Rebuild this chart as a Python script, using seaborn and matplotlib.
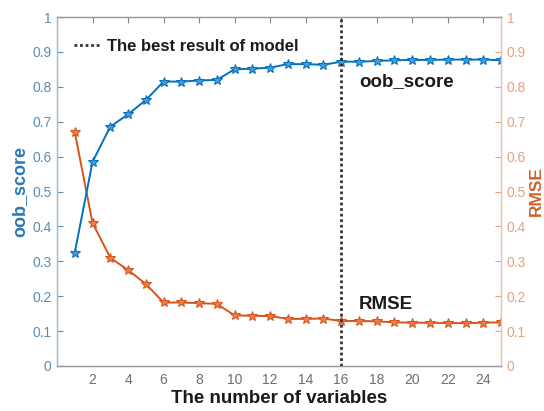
import matplotlib
matplotlib.use("Agg")
import matplotlib.pyplot as plt
from matplotlib.ticker import FuncFormatter
import pandas as pd
import seaborn as sns

# Random-forest feature selection results
n_variables = list(range(1, 26))
oob_score = [0.325, 0.585, 0.686, 0.721, 0.762, 0.815, 0.815, 0.818, 0.820, 0.850,
             0.852, 0.855, 0.865, 0.865, 0.863, 0.872, 0.872, 0.874, 0.876, 0.877,
             0.877, 0.878, 0.878, 0.878, 0.876]
rmse = [0.670, 0.410, 0.310, 0.275, 0.235, 0.182, 0.182, 0.180, 0.178, 0.145,
        0.144, 0.143, 0.135, 0.135, 0.136, 0.129, 0.129, 0.128, 0.125, 0.124,
        0.124, 0.123, 0.123, 0.124, 0.125]
best_n = 16
x_ticks = list(range(2, 25, 2))
y_ticks = [round(v * 0.1, 1) for v in range(11)]

df = pd.DataFrame({"n": n_variables, "oob_score": oob_score, "RMSE": rmse})

sns.set_style("white")
plt.rcParams["font.family"] = ["Liberation Sans", "DejaVu Sans"]

BLUE = "#0072BD"
ORANGE = "#D95319"
BLUE_TXT = "#5a8db5"
ORANGE_TXT = "#e6a07e"
GREY_TXT = "#6e6e6e"

fig = plt.figure(figsize=(5.44, 4.11), dpi=100)
ax = fig.add_axes([0.1048, 0.1095, 0.8162, 0.8491])
ax2 = ax.twinx()

sns.lineplot(data=df, x="n", y="oob_score", ax=ax, color=BLUE, linewidth=1.4,
             marker="*", markersize=7, markeredgecolor=BLUE, markerfacecolor="#4a9ad4")
sns.lineplot(data=df, x="n", y="RMSE", ax=ax2, color=ORANGE, linewidth=1.4,
             marker="*", markersize=7, markeredgecolor=ORANGE, markerfacecolor="#e8804e")

best_line = ax.axvline(best_n, color="#333333", linestyle=(0, (1, 1)), linewidth=2.0,
                       label="The best result of model")

fmt = FuncFormatter(lambda v, p: "%g" % round(v, 2))
for a in (ax, ax2):
    a.set_xlim(0, 25)
    a.set_ylim(0, 1)
    a.set_yticks(y_ticks)
    a.yaxis.set_major_formatter(fmt)

ax.set_xticks(x_ticks)
ax.tick_params(axis="x", direction="in", length=4, top=True, colors="#888888",
               labelcolor=GREY_TXT, labelsize=10, pad=5, width=0.8)
ax.tick_params(axis="y", direction="in", length=4, colors=BLUE_TXT,
               labelcolor=BLUE_TXT, labelsize=10, pad=4, width=0.8)
ax2.tick_params(axis="y", direction="in", length=4, colors=ORANGE_TXT,
                labelcolor=ORANGE_TXT, labelsize=10, pad=4, width=0.8)

for a in (ax, ax2):
    a.spines["top"].set_color("#9a9a9a")
    a.spines["bottom"].set_color("#9a9a9a")
    a.spines["left"].set_color("#9fbcd3")
    a.spines["right"].set_color("#efc3ad")
    for s in a.spines.values():
        s.set_linewidth(0.9)

ax.set_xlabel("The number of variables", fontsize=13.5, fontweight="bold",
              color="#1a1a1a", labelpad=2)
ax.set_ylabel("oob_score", fontsize=13, fontweight="bold", color="#2a78b4",
              labelpad=3)
ax2.set_ylabel("RMSE", fontsize=12.5, fontweight="bold", color="#d0622c",
               labelpad=2)

ax.text(17.0, 0.814, "oob_score", fontsize=13.5, fontweight="bold",
        color="#1a1a1a", va="center", ha="left")
ax.text(17.0, 0.177, "RMSE", fontsize=13.5, fontweight="bold",
        color="#1a1a1a", va="center", ha="left")

leg = ax.legend(handles=[best_line], loc="upper left", frameon=False,
                fontsize=12, handlelength=1.5, handletextpad=0.5,
                borderaxespad=0.6, bbox_to_anchor=(0.0, 0.985))
for t in leg.get_texts():
    t.set_fontweight("bold")
    t.set_color("#1a1a1a")

ax.set_zorder(ax2.get_zorder() + 1)
ax.patch.set_visible(False)

fig.savefig("out.png", dpi=100)
